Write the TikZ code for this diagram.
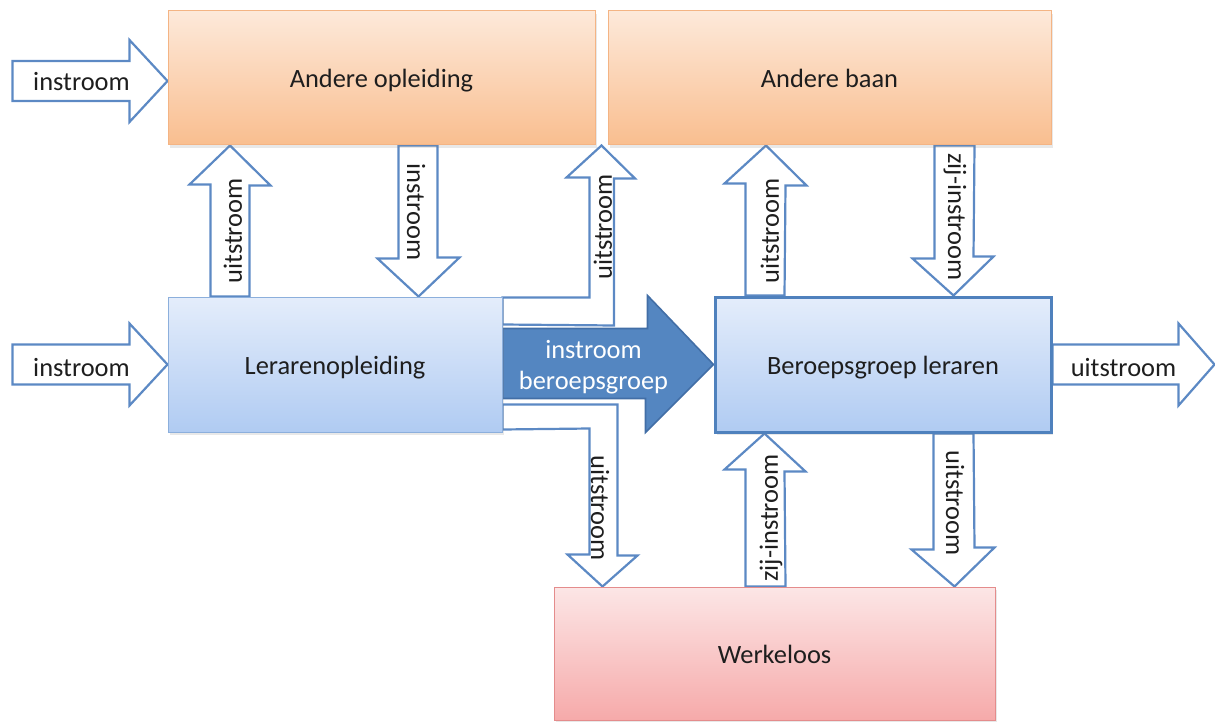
\documentclass[tikz,border=0pt]{standalone}
\usepackage{fontspec}
\setmainfont{Carlito}
\usetikzlibrary{calc,shadows}
\pgfdeclarelayer{background}
\pgfsetlayers{background,main}

\definecolor{flowline}{RGB}{92,137,196}
\definecolor{bigfill}{RGB}{84,134,193}
\definecolor{bigline}{RGB}{66,110,166}
\definecolor{orTop}{RGB}{253,233,218}
\definecolor{orBot}{RGB}{249,190,143}
\definecolor{orLine}{RGB}{244,180,132}
\definecolor{blTop}{RGB}{228,237,251}
\definecolor{blBot}{RGB}{176,203,242}
\definecolor{blLine}{RGB}{140,175,220}
\definecolor{blStrong}{RGB}{79,129,189}
\definecolor{rdTop}{RGB}{252,230,230}
\definecolor{rdBot}{RGB}{246,170,170}
\definecolor{rdLine}{RGB}{228,140,140}
\definecolor{ink}{RGB}{30,30,30}

\tikzset{
  txt/.style={font=\fontsize{13.2pt}{15.6pt}\selectfont, text=ink},
  box/.style={txt, rectangle, draw, line width=0.5pt,
    text height=1.2em, text depth=0.25em,
    drop shadow={shadow xshift=1pt, shadow yshift=-1.5pt, opacity=0.18}},
  orbox/.style={box, top color=orTop, bottom color=orBot, draw=orLine},
  blbox/.style={box, top color=blTop, bottom color=blBot, draw=blLine},
  rdbox/.style={box, top color=rdTop, bottom color=rdBot, draw=rdLine},
  flow/.style={draw=flowline, fill=white, line width=1.1pt, line join=miter},
  bigflow/.style={draw=bigline, fill=bigfill, line width=0.8pt},
  lab/.style={txt, inner sep=0pt},
}

\begin{document}
\begin{tikzpicture}[x=0.5pt, y=-0.5pt]
\useasboundingbox (0,0) rectangle (1215,722);

% boxes
\node[orbox, minimum width=213.5pt, minimum height=67pt] (ao) at (381.5,78) {Andere opleiding};
\node[orbox, minimum width=221.5pt, minimum height=67pt] (ab) at (829.5,78) {Andere baan};
\node[blbox, minimum width=167pt, minimum height=67.5pt] (lo) at (335,364.5) {Lerarenopleiding};
\node[blbox, draw=blStrong, line width=1.5pt, minimum width=168pt, minimum height=67.5pt] (bl) at (883,364.5) {Beroepsgroep leraren};
\node[rdbox, minimum width=220.5pt, minimum height=66.5pt] (wk) at (774.5,653.5) {Werkeloos};

\begin{pgfonlayer}{background}
% incoming flows from the left
\draw[flow] ($(ao.west)+(-155,-17)$) -- ++(117,0) -- ++(0,-21) -- ($(ao.west)+(0,3)$)
  -- ++(-38,41) -- ++(0,-21) -- ++(-117,0) -- cycle;
\draw[flow] ($(lo.west)+(-155,-20)$) -- ++(117,0) -- ++(0,-21) -- (lo.west)
  -- ++(-38,41) -- ++(0,-21) -- ++(-117,0) -- cycle;
% outgoing flow on the right
\draw[flow] ($(bl.east)+(0,-20)$) -- ++(126,0) -- ++(0,-21) -- ++(36,41)
  -- ++(-36,41) -- ++(0,-21) -- ++(-126,0) -- cycle;

% Lerarenopleiding <-> Andere opleiding
\draw[flow] ($(lo.north west)+(43,0)$) -- ++(0,-112) -- ++(-21,0) -- ($(ao.south west)+(62.5,0)$)
  -- ++(40.5,40) -- ++(-21,0) -- ($(lo.north west)+(82,0)$) -- cycle;
\draw[flow] ($(ao.south west)+(231,0)$) -- ++(0,113) -- ++(-21,0) -- ($(lo.north west)+(251,0)$)
  -- ++(41,-39) -- ++(-22,0) -- ($(ao.south west)+(270,0)$) -- cycle;

% bent flows out of Lerarenopleiding
\draw[flow] ($(lo.north east)+(0,1)$) -- ++(87,0) -- ++(0,-120) -- ++(-23,0)
  -- ($(ao.south east)!.5!(ab.south west)$) -- ++(33.5,33) -- ++(-21,0) -- ++(0,147)
  -- ($(lo.north east)+(0,28)$) -- cycle;
\draw[flow] ($(lo.south east)+(0,-28)$) -- ++(115,0) -- ++(0,151) -- ++(20,0)
  -- ($(wk.north west)+(49,0)$) -- ++(-35,-32) -- ++(22,0) -- ++(0,-126)
  -- ($(lo.south east)+(0,-3)$) -- cycle;

% main flow into the profession
\draw[bigflow] ($(lo.east)+(0,-36)$) -- ++(145,0) -- ++(0,-33) -- (bl.west)
  -- ++(-68,68) -- ++(0,-34) -- ($(lo.east)+(0,34)$) -- cycle;

% Beroepsgroep leraren <-> Andere baan
\draw[flow] ($(bl.north west)+(32,0)$) -- ++(0,-112) -- ++(-21,0) -- ($(ab.south west)+(158.5,0)$)
  -- ++(40.5,40) -- ++(-21,0) -- ($(bl.north west)+(71,0)$) -- cycle;
\draw[flow] ($(ab.south west)+(327,0)$) -- ++(0,113) -- ++(-22,0) -- ($(bl.north west)+(240,0)$)
  -- ++(40,-39) -- ++(-20,0) -- ($(ab.south west)+(367,0)$) -- cycle;

% Beroepsgroep leraren <-> Werkeloos
\draw[flow] ($(wk.north west)+(192,0)$) -- ++(0,-117) -- ++(-21,0) -- ($(bl.south west)+(51,0)$)
  -- ++(41,38) -- ++(-21,0) -- ($(wk.north west)+(232,0)$) -- cycle;
\draw[flow] ($(bl.south west)+(220,0)$) -- ++(0,116) -- ++(-22,0) -- ($(wk.north west)+(401,0)$)
  -- ++(40,-39) -- ++(-20,0) -- ($(bl.south west)+(260,0)$) -- cycle;
\end{pgfonlayer}

% flow labels
\node[lab] (l1) at ($(ao.west)+(-86,4)$) {instroom};
\node[lab] (l2) at ($(lo.west)+(-86,3)$) {instroom};
\node[lab] (l3) at ($(bl.east)+(71,3)$) {uitstroom};
\node[lab, rotate=90] (l4) at (233,231) {uitstroom};
\node[lab, rotate=-90] (l5) at (416,212) {instroom};
\node[lab, rotate=90] (l6) at (603,227) {uitstroom};
\node[lab, rotate=-90] (l7) at (600,508) {uitstroom};
\node[lab, rotate=90] (l8) at (770,231) {uitstroom};
\node[lab, rotate=-90] (l9) at (955,217) {zij-instroom};
\node[lab, rotate=90] (l10) at (771,518) {zij-instroom};
\node[lab, rotate=-90] (l11) at (955,503) {uitstroom};
\node[lab, text=white, align=center, font=\fontsize{13.2pt}{15.6pt}\selectfont] (l12)
  at ($(lo.east)+(91,3)$) {instroom\\beroepsgroep};
\end{tikzpicture}
\end{document}
